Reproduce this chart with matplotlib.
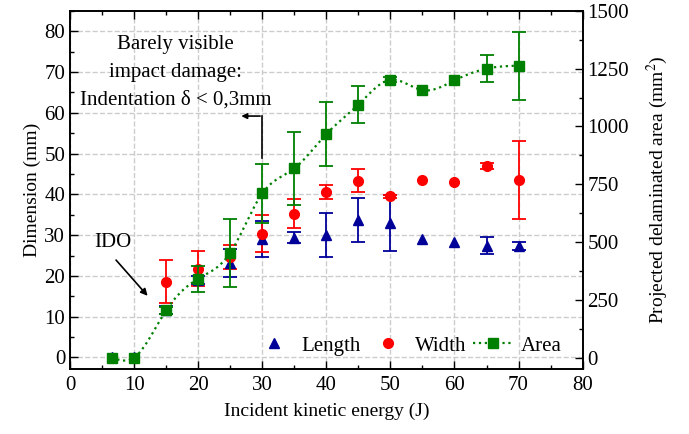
import numpy as np
import matplotlib
matplotlib.use('Agg')
import matplotlib.pyplot as plt
from matplotlib.ticker import MultipleLocator
from matplotlib.lines import Line2D

plt.rcParams['font.family'] = ['Liberation Serif', 'DejaVu Serif']
plt.rcParams['font.size'] = 15
plt.rcParams['mathtext.fontset'] = 'stix'

# data
energy = [6.5, 10, 15, 20, 25, 30, 35, 40, 45, 50, 55, 60, 65, 70]
length = [0, 0, 11.7, 19.1, 23.2, 29.1, 29.4, 30.1, 33.6, 33.0, 29.0, 28.2, 27.4, 27.4]
length_err = [0, 0, 1.0, 1.0, 3.4, 4.4, 1.3, 5.4, 5.4, 6.8, 0, 0, 2.1, 1.0]
width_e = [15, 20, 25, 30, 35, 40, 45, 50, 55, 60, 65, 70]
width = [18.6, 21.8, 24.6, 30.4, 35.3, 40.6, 43.3, 39.5, 43.4, 43.1, 47.0, 43.6]
width_err = [5.2, 4.2, 3.0, 4.5, 3.6, 1.8, 2.8, 0.3, 0, 0, 0.7, 9.6]
area = [0, 0, 204, 341, 453, 710, 818, 967, 1094, 1202, 1157, 1199, 1250, 1263]
area_err = [0, 0, 15, 56, 146, 129, 157, 138, 81, 10, 0, 0, 58, 147]


def smooth(x, y, n=300):
    # natural cubic spline through the points, for the drawn curve only
    x = np.asarray(x, float)
    y = np.asarray(y, float)
    h = np.diff(x)
    m = len(x)
    A = np.zeros((m, m))
    b = np.zeros(m)
    A[0, 0] = A[-1, -1] = 1
    for i in range(1, m - 1):
        A[i, i - 1] = h[i - 1]
        A[i, i] = 2 * (h[i - 1] + h[i])
        A[i, i + 1] = h[i]
        b[i] = 6 * ((y[i + 1] - y[i]) / h[i] - (y[i] - y[i - 1]) / h[i - 1])
    M = np.linalg.solve(A, b)
    xs = np.linspace(x[0], x[-1], n)
    idx = np.clip(np.searchsorted(x, xs) - 1, 0, m - 2)
    x0, x1 = x[idx], x[idx + 1]
    hh = x1 - x0
    ys = (M[idx] * (x1 - xs) ** 3 / (6 * hh) + M[idx + 1] * (xs - x0) ** 3 / (6 * hh)
          + (y[idx] / hh - M[idx] * hh / 6) * (x1 - xs)
          + (y[idx + 1] / hh - M[idx + 1] * hh / 6) * (xs - x0))
    return xs, ys


def nz(err):
    # zero error -> no bar drawn
    return [e if e > 0 else np.nan for e in err]


fig = plt.figure(figsize=(6.89, 4.34), dpi=100)
ax = fig.add_axes([0.1016, 0.150, 0.744, 0.825])
ax2 = ax.twinx()

blue = '#000099'
red = '#ff0000'
green = '#008000'

ax.errorbar(energy, length, yerr=nz(length_err), fmt='^', color=blue, ms=7.5,
            capsize=5, elinewidth=1.3, capthick=1.3, zorder=3)
ax.errorbar(width_e, width, yerr=nz(width_err), fmt='o', color=red, ms=7,
            capsize=5, elinewidth=1.3, capthick=1.3, zorder=3)

xs, ys = smooth(energy, area)
ax2.plot(xs, ys, ':', color=green, lw=1.6)
ax2.errorbar(energy, area, yerr=nz(area_err), fmt='s', color=green, ms=6.5,
             capsize=5, elinewidth=1.3, capthick=1.3, zorder=3)

ax.set_xlim(0, 80)
ax.set_ylim(-2.8, 85)
ax2.set_ylim(-49, 1500)

ax.xaxis.set_major_locator(MultipleLocator(10))
ax.xaxis.set_minor_locator(MultipleLocator(5))
ax.yaxis.set_major_locator(MultipleLocator(10))
ax.yaxis.set_minor_locator(MultipleLocator(5))
ax2.yaxis.set_major_locator(MultipleLocator(250))
ax2.yaxis.set_minor_locator(MultipleLocator(125))

ax.tick_params(which='both', direction='in', top=True, labelsize=15)
ax.tick_params(which='major', length=6, width=1)
ax.tick_params(which='minor', length=3, width=1)
ax2.tick_params(which='both', direction='in', labelsize=15)
ax2.tick_params(which='major', length=6, width=1)
ax2.tick_params(which='minor', length=3, width=1)
ax.tick_params(axis='x', pad=5)

ax.grid(True, which='major', linestyle='--', color='#cccccc', lw=1)
ax.set_axisbelow(True)

ax.set_xlabel('Incident kinetic energy (J)', fontsize=14, labelpad=6)
ax.set_ylabel('Dimension (mm)', fontsize=14, labelpad=2)
ax2.set_ylabel('Projected delaminated area (mm$^2$)', fontsize=14, labelpad=11)

for a in (ax, ax2):
    for s in a.spines.values():
        s.set_linewidth(1.2)

ax.text(16.5, 79.0, 'Barely visible\nimpact damage:\nIndentation δ < 0,3mm',
        ha='center', va='top', fontsize=15, linespacing=1.6)
ax.plot([30, 30], [49, 59.2], color='black', lw=1.2)
ax.annotate('', xy=(26.3, 59.2), xytext=(30.1, 59.2),
            arrowprops=dict(arrowstyle='-|>', color='black', lw=1.2, mutation_scale=8))

ax.text(6.7, 28.3, 'IDO', ha='center', va='center', fontsize=15)
ax.annotate('', xy=(12.4, 14.6), xytext=(6.9, 24.4),
            arrowprops=dict(arrowstyle='-|>', color='black', lw=1.2, mutation_scale=10))

handles = [
    Line2D([], [], ls='none', marker='^', color=blue, ms=7.5),
    Line2D([], [], ls='none', marker='o', color=red, ms=7),
    Line2D([], [], ls=':', marker='s', color=green, ms=6.5, lw=1.6),
]
ax2.legend(handles, ['Length', 'Width', 'Area'], ncol=3, frameon=False,
           loc='lower right', bbox_to_anchor=(0.995, -0.015), fontsize=15,
           handlelength=2.0, columnspacing=0.3, handletextpad=0.3)

fig.savefig('out.png', dpi=100)
